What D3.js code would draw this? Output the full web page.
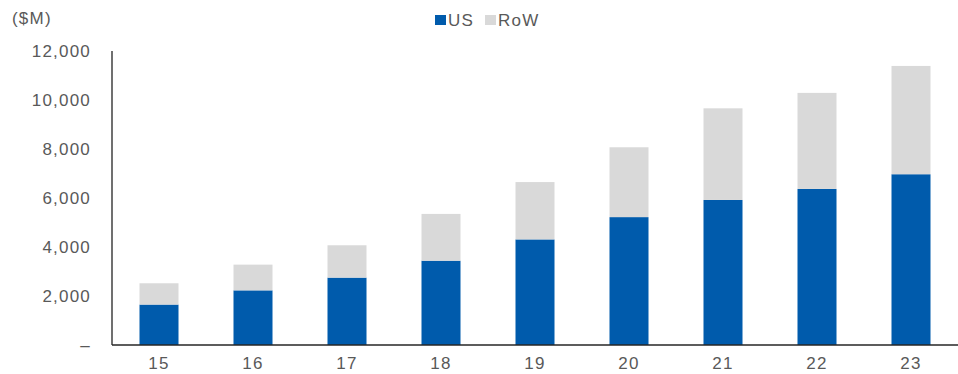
<!DOCTYPE html>
<html lang="en">
<head>
  <meta charset="UTF-8">
  <title>US vs RoW</title>
  <style>
    body { margin: 0; background: #fff; }
    text { font-family: "Liberation Sans", Arial, sans-serif; letter-spacing: 1.2px; }
  </style>
</head>
<body>
  <svg id="chart" width="958" height="374"></svg>
  <script src="https://cdn.jsdelivr.net/npm/d3@7"></script>
  <script>
  // data
  const years = ['15', '16', '17', '18', '19', '20', '21', '22', '23'];
  const usVals = [1650, 2230, 2750, 3440, 4310, 5220, 5920, 6370, 6970];
  const rowVals = [870, 1050, 1320, 1910, 2340, 2850, 3740, 3920, 4420];
  const yTicks = [0, 2000, 4000, 6000, 8000, 10000, 12000];
  const seriesNames = ['US', 'RoW'];
  const colors = ['#005BAC', '#D9D9D9'];

  const svg = d3.select('#chart');
  const plotLeft = 112, plotRight = 958, plotTop = 51, plotBottom = 345;

  const x = d3.scaleBand()
    .domain(years)
    .range([plotLeft, plotRight])
    .paddingInner(0.585)
    .paddingOuter(0.2925);

  const y = d3.scaleLinear()
    .domain([0, 12000])
    .range([plotBottom, plotTop]);

  const rows = years.map((yr, i) => ({ year: yr, US: usVals[i], RoW: rowVals[i] }));
  const stacked = d3.stack().keys(seriesNames)(rows);

  // bars
  svg.append('g')
    .selectAll('g')
    .data(stacked)
    .enter()
    .append('g')
    .attr('fill', (d, i) => colors[i])
    .selectAll('rect')
    .data(d => d)
    .enter()
    .append('rect')
    .attr('x', d => x(d.data.year))
    .attr('width', x.bandwidth())
    .attr('y', d => y(d[1]))
    .attr('height', d => y(d[0]) - y(d[1]));

  // y axis labels
  const yAxis = d3.axisLeft(y)
    .tickValues(yTicks)
    .tickSize(0)
    .tickPadding(21)
    .tickFormat(d => d === 0 ? '–' : d3.format(',')(d));

  const yg = svg.append('g')
    .attr('transform', `translate(${plotLeft},0)`)
    .call(yAxis);
  yg.select('.domain').remove();
  yg.selectAll('text')
    .attr('font-size', 17)
    .attr('fill', '#595959')
    .attr('font-family', '"Liberation Sans", Arial, sans-serif');

  // x axis labels
  const xAxis = d3.axisBottom(x).tickSize(0).tickPadding(12);
  const xg = svg.append('g')
    .attr('transform', `translate(0,${plotBottom})`)
    .call(xAxis);
  xg.select('.domain').remove();
  xg.selectAll('text')
    .attr('font-size', 17)
    .attr('fill', '#595959')
    .attr('font-family', '"Liberation Sans", Arial, sans-serif');

  // axis lines
  svg.append('line')
    .attr('x1', plotLeft).attr('x2', plotLeft)
    .attr('y1', plotTop).attr('y2', plotBottom)
    .attr('stroke', '#404040').attr('stroke-width', 1.5);
  svg.append('line')
    .attr('x1', plotLeft).attr('x2', plotRight)
    .attr('y1', plotBottom).attr('y2', plotBottom)
    .attr('stroke', '#262626').attr('stroke-width', 1.5);

  // unit label
  svg.append('text')
    .attr('x', 12).attr('y', 24)
    .attr('font-size', 17)
    .attr('fill', '#595959')
    .text('($M)');

  // legend
  const legend = svg.append('g')
    .selectAll('g')
    .data(seriesNames)
    .enter()
    .append('g')
    .attr('transform', (d, i) => `translate(${[435, 485][i]},15)`);
  legend.append('rect')
    .attr('width', 11).attr('height', 10)
    .attr('fill', (d, i) => colors[i]);
  legend.append('text')
    .attr('x', 13).attr('y', 11)
    .attr('font-size', 17)
    .attr('fill', '#595959')
    .text(d => d);
  </script>
</body>
</html>
